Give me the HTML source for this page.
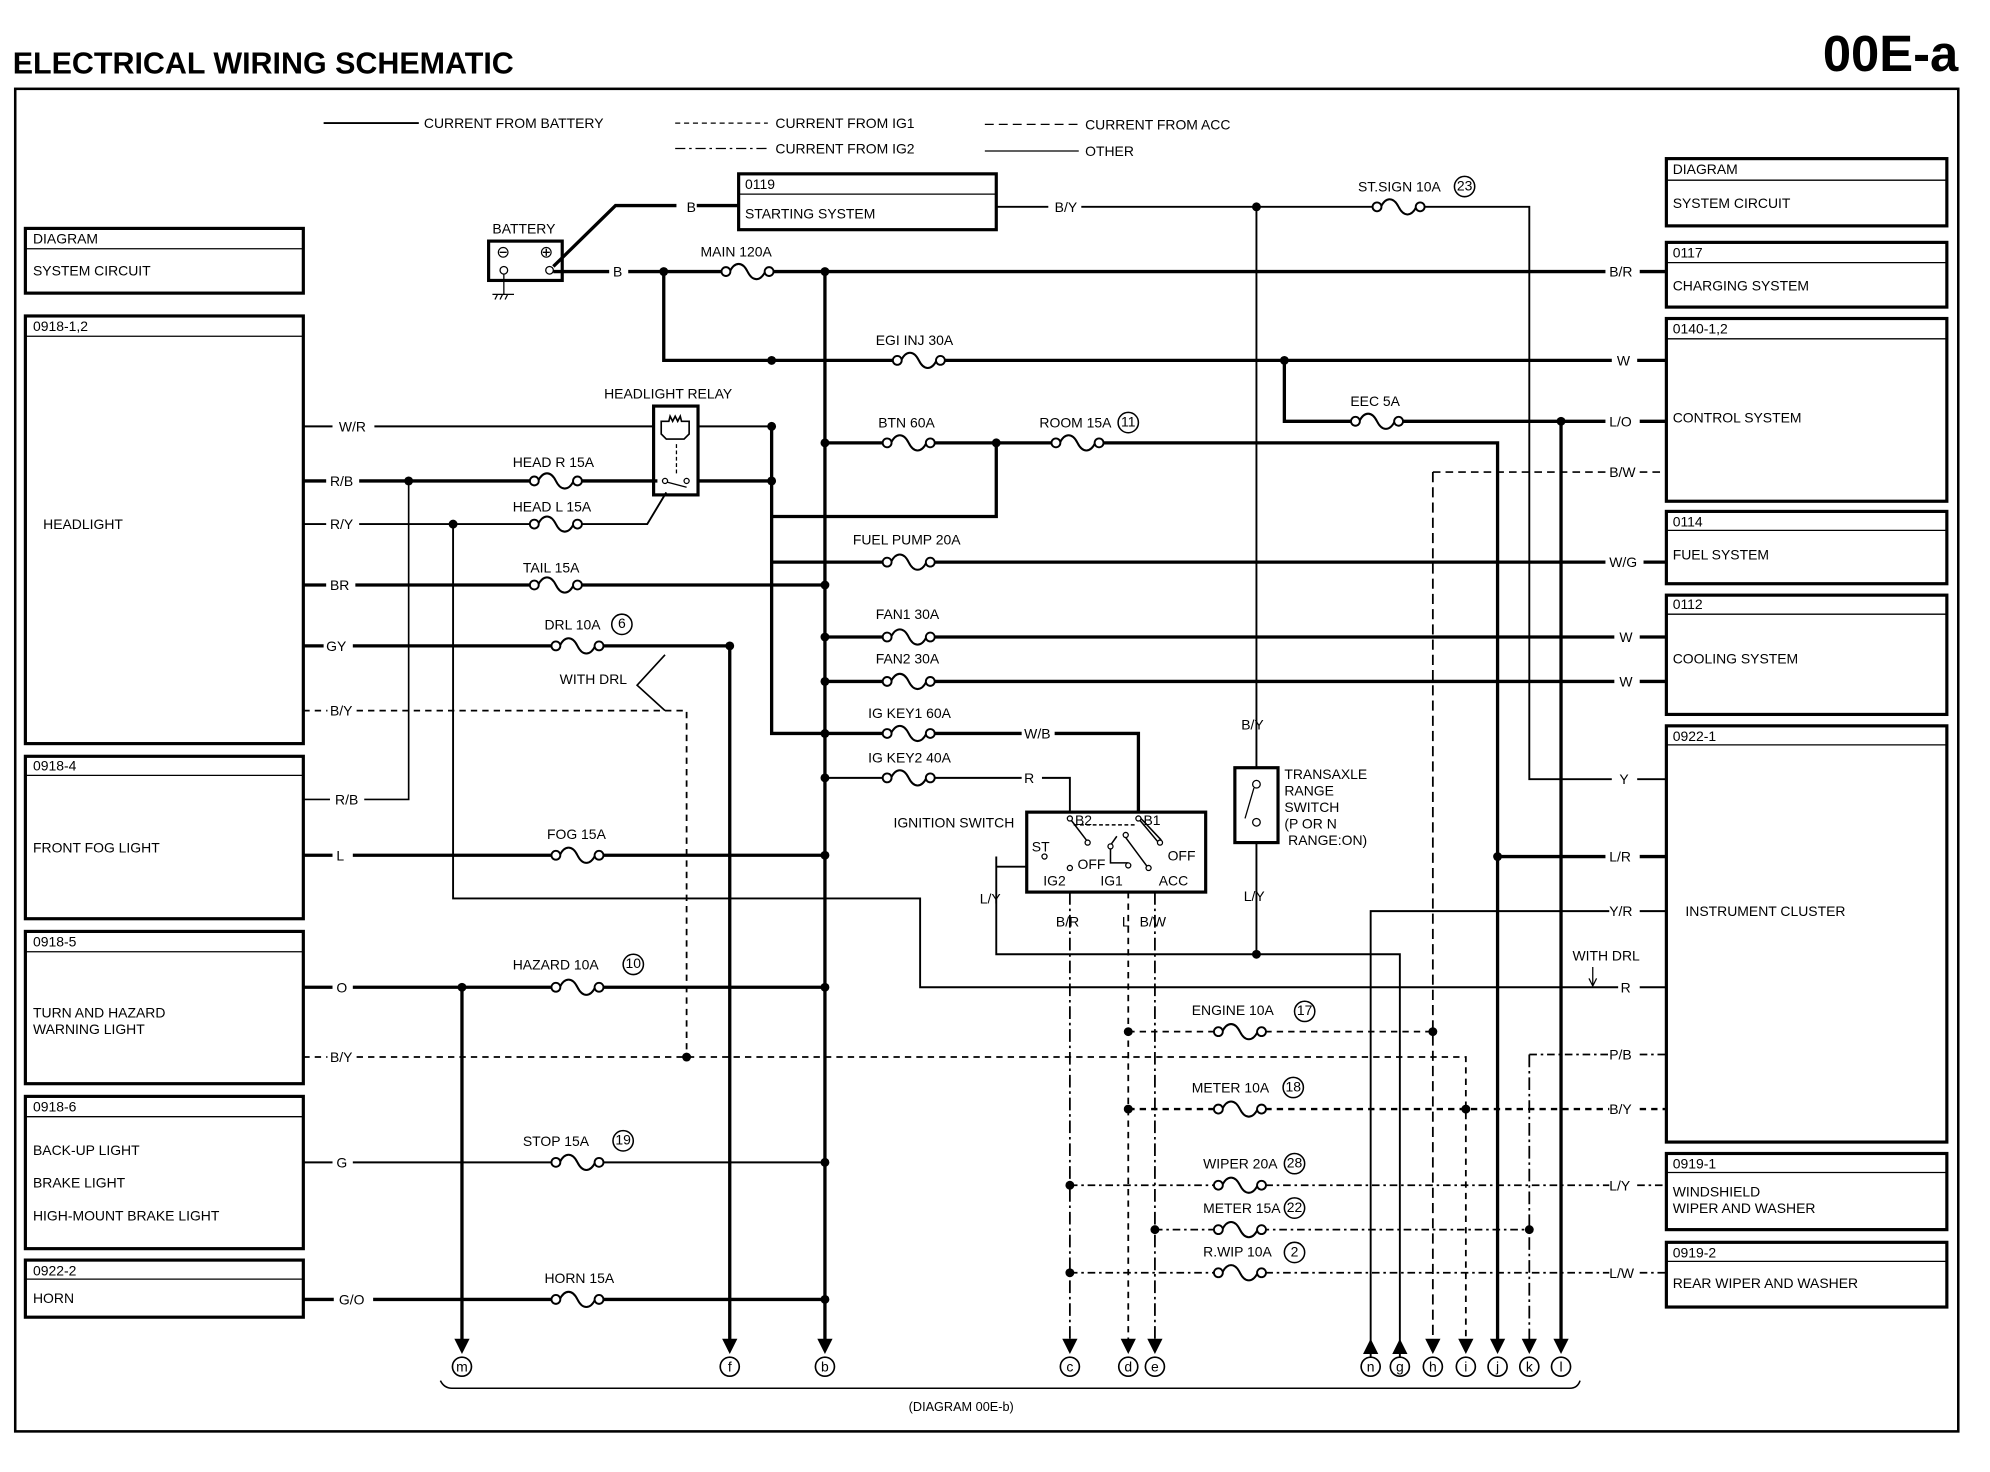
<!DOCTYPE html>
<html><head><meta charset="utf-8"><style>
html,body{margin:0;padding:0;background:#fff;}
svg{display:block;}
text{font-family:"Liberation Sans",sans-serif;font-size:11px;fill:#000;}
.b{font-weight:bold;}
</style></head><body>
<svg width="1990" height="1472" viewBox="0 0 1568 1160" preserveAspectRatio="none" xmlns="http://www.w3.org/2000/svg">
<defs>
<g id="f"><rect x="-19" y="-3" width="38" height="6" fill="#fff"/><path d="M-14 0 C-10 -8 -4 -8 0 0 C4 8 10 8 14 0" fill="none" stroke="#000" stroke-width="1.6"/><circle cx="-17" r="3.5" fill="#fff" stroke="#000" stroke-width="1.5"/><circle cx="17" r="3.5" fill="#fff" stroke="#000" stroke-width="1.5"/></g>
</defs>
<rect width="1568" height="1160" fill="#fff"/>
<text x="10" y="58" class="b" style="font-size:24px">ELECTRICAL WIRING SCHEMATIC</text>
<text x="1543" y="56" class="b" style="font-size:40px" text-anchor="end">00E-a</text>
<rect x="12" y="70" width="1531" height="1058" fill="none" stroke="#000" stroke-width="2"/>

<!-- legend -->
<g stroke="#000" stroke-width="1.5">
<line x1="255" y1="97" x2="330" y2="97"/>
<line x1="532" y1="97" x2="605" y2="97" stroke-dasharray="4 3" stroke-width="1"/>
<line x1="532" y1="117" x2="605" y2="117" stroke-dasharray="8 3 2 3" stroke-width="1"/>
<line x1="776" y1="98" x2="850" y2="98" stroke-dasharray="7 4" stroke-width="1"/>
<line x1="776" y1="119" x2="850" y2="119" stroke-width="1"/>
</g>
<text x="334" y="101">CURRENT FROM BATTERY</text>
<text x="611" y="101">CURRENT FROM IG1</text>
<text x="611" y="121">CURRENT FROM IG2</text>
<text x="855" y="102">CURRENT FROM ACC</text>
<text x="855" y="123">OTHER</text>

<g fill="none" stroke="#000" stroke-width="2.5">
<rect x="20" y="180" width="219" height="51"/><rect x="20" y="249" width="219" height="337"/>
<rect x="20" y="596" width="219" height="128"/><rect x="20" y="734" width="219" height="120"/>
<rect x="20" y="864" width="219" height="120"/><rect x="20" y="993" width="219" height="45"/>
<rect x="1313" y="125" width="221" height="53"/><rect x="1313" y="191" width="221" height="51"/>
<rect x="1313" y="251" width="221" height="144"/><rect x="1313" y="403" width="221" height="57"/>
<rect x="1313" y="469" width="221" height="94"/><rect x="1313" y="572" width="221" height="328"/>
<rect x="1313" y="909" width="221" height="60"/><rect x="1313" y="979" width="221" height="51"/>
<rect x="582" y="137" width="203" height="44"/>
</g>
<g stroke="#000" stroke-width="1">
<line x1="20" y1="196" x2="239" y2="196"/><line x1="20" y1="265" x2="239" y2="265"/>
<line x1="20" y1="611" x2="239" y2="611"/><line x1="20" y1="750" x2="239" y2="750"/>
<line x1="20" y1="880" x2="239" y2="880"/><line x1="20" y1="1008" x2="239" y2="1008"/>
<line x1="1313" y1="142" x2="1534" y2="142"/><line x1="1313" y1="207" x2="1534" y2="207"/>
<line x1="1313" y1="267" x2="1534" y2="267"/><line x1="1313" y1="418" x2="1534" y2="418"/>
<line x1="1313" y1="484" x2="1534" y2="484"/><line x1="1313" y1="587" x2="1534" y2="587"/>
<line x1="1313" y1="924" x2="1534" y2="924"/><line x1="1313" y1="994" x2="1534" y2="994"/>
<line x1="582" y1="153" x2="785" y2="153"/>
</g>
<text x="26" y="192">DIAGRAM</text><text x="26" y="217">SYSTEM CIRCUIT</text>
<text x="26" y="261">0918-1,2</text><text x="34" y="417">HEADLIGHT</text>
<text x="26" y="607">0918-4</text><text x="26" y="672">FRONT FOG LIGHT</text>
<text x="26" y="746">0918-5</text><text x="26" y="802">TURN AND HAZARD</text><text x="26" y="815">WARNING LIGHT</text>
<text x="26" y="876">0918-6</text><text x="26" y="910">BACK-UP LIGHT</text><text x="26" y="936">BRAKE LIGHT</text><text x="26" y="962">HIGH-MOUNT BRAKE LIGHT</text>
<text x="26" y="1005">0922-2</text><text x="26" y="1027">HORN</text>
<text x="1318" y="137">DIAGRAM</text><text x="1318" y="164">SYSTEM CIRCUIT</text>
<text x="1318" y="203">0117</text><text x="1318" y="229">CHARGING SYSTEM</text>
<text x="1318" y="263">0140-1,2</text><text x="1318" y="333">CONTROL SYSTEM</text>
<text x="1318" y="415">0114</text><text x="1318" y="441">FUEL SYSTEM</text>
<text x="1318" y="480">0112</text><text x="1318" y="523">COOLING SYSTEM</text>
<text x="1318" y="584">0922-1</text><text x="1328" y="722">INSTRUMENT CLUSTER</text>
<text x="1318" y="921">0919-1</text><text x="1318" y="943">WINDSHIELD</text><text x="1318" y="956">WIPER AND WASHER</text>
<text x="1318" y="991">0919-2</text><text x="1318" y="1015">REAR WIPER AND WASHER</text>
<text x="587" y="149">0119</text><text x="587" y="172">STARTING SYSTEM</text>

<rect x="385" y="190" width="58" height="31" fill="none" stroke="#000" stroke-width="2.5"/>
<text x="388" y="184">BATTERY</text>
<text x="391" y="203" style="font-size:13px">⊖</text><text x="425" y="203" style="font-size:13px">⊕</text>
<circle cx="397" cy="213" r="3" fill="#fff" stroke="#000"/><circle cx="433" cy="213" r="3" fill="#fff" stroke="#000"/>
<path d="M397 216 V232 M388 232 H405 M390 236 l2 -4 M394 236 l2 -4 M398 236 l2 -4" stroke="#000" fill="none"/>

<g stroke="#000" stroke-width="2.6" fill="none">
<path d="M436 210 L485 162 H533 M549 162 H582"/>
<path d="M436 214 H480 M495 214 H1265 M1292 214 H1313"/>
<path d="M785 163 H826 M852 163 H1205 V614 H1270 M1290 614 H1313" stroke-width="1.5"/>
<path d="M990 163 V605" stroke-width="1.5"/>
<path d="M523 214 V284 H1270 M1290 284 H1313"/>
<path d="M1012 284 V332 H1265 M1292 332 H1313"/>
<path d="M650 214 V1060"/>
<path d="M608 336 V578 H805 M831 578 H897 V640"/>
<path d="M650 349 H1180 V1060 M1180 675 H1265 M1292 675 H1313"/>
<path d="M785 349 V407 H608"/>
<path d="M650 613 H805 M821 613 H843 V640" stroke-width="1.5"/>
<path d="M608 443 H1265 M1295 443 H1313"/>
<path d="M650 502 H1272 M1292 502 H1313"/>
<path d="M650 537 H1272 M1292 537 H1313"/>
<path d="M1230 332 V1060"/>
<path d="M239 336 H262 M295 336 H515 M550 336 H608" stroke-width="1.5"/>
<path d="M239 379 H257 M283 379 H518 M550 379 H608"/>
<path d="M239 413 H257 M283 413 H510 L525 388" stroke-width="1.5"/>
<path d="M239 461 H257 M280 461 H650"/>
<path d="M239 509 H255 M278 509 H575 V1060"/>
<path d="M239 630 H260 M287 630 H322 V379" stroke-width="1.3"/>
<path d="M357 413 V708 H725 V778 H1275 M1292 778 H1313" stroke-width="1.5"/>
<path d="M239 674 H262 M278 674 H650"/>
<path d="M239 778 H262 M278 778 H650 M364 778 V1060"/>
<path d="M239 916 H262 M278 916 H650" stroke-width="1.5"/>
<path d="M239 1024 H263 M294 1024 H650"/>
<path d="M785 683 H809 M785 675 V752 H1103 V1070" stroke-width="1.5"/>
<path d="M990 664 V752" stroke-width="1.5"/>
<path d="M1080 1070 V718 H1268 M1292 718 H1313" stroke-width="1.5"/>
<path d="M1205 831 H1270 M1292 831 H1313" stroke-width="1.3" stroke-dasharray="6 3 2 3"/>
<path d="M1129 372 H1267 M1292 372 H1313" stroke-width="1.2" stroke-dasharray="6 4"/>
</g>
<g stroke="#000" stroke-width="1.4" fill="none">
<path d="M239 560 H258 M281 560 H541 V833" stroke-dasharray="5 4"/>
<path d="M239 833 H258 M281 833 H1155 V1060" stroke-dasharray="5 4"/>
<path d="M843 703 V1060" stroke-dasharray="10 3 2 3"/>
<path d="M843 934 H1268 M1290 934 H1313" stroke-dasharray="6 3 2 3"/>
<path d="M843 1003 H1268 M1292 1003 H1313" stroke-dasharray="6 3 2 3"/>
<path d="M889 703 V1060" stroke-dasharray="5 4"/>
<path d="M889 813 H1129" stroke-dasharray="5 4"/>
<path d="M1129 372 V1060" stroke-dasharray="8 4"/>
<path d="M889 874 H1268 M1292 874 H1313" stroke-dasharray="5 4" stroke-width="1.8"/>
<path d="M910 703 V1060" stroke-dasharray="10 3 2 3"/>
<path d="M910 969 H1205" stroke-dasharray="6 3 2 3"/>
<path d="M1205 831 V1060" stroke-dasharray="10 3 2 3"/>
</g>
<g fill="#000">
<path d="M358 1055 h12 l-6 12z"/><path d="M569 1055 h12 l-6 12z"/><path d="M644 1055 h12 l-6 12z"/>
<path d="M837 1055 h12 l-6 12z"/><path d="M883 1055 h12 l-6 12z"/><path d="M904 1055 h12 l-6 12z"/>
<path d="M1123 1055 h12 l-6 12z"/><path d="M1149 1055 h12 l-6 12z"/><path d="M1174 1055 h12 l-6 12z"/>
<path d="M1199 1055 h12 l-6 12z"/><path d="M1224 1055 h12 l-6 12z"/>
<path d="M1074 1067 h12 l-6 -12z"/><path d="M1097 1067 h12 l-6 -12z"/>
</g>
<g fill="#fff" stroke="#000" stroke-width="1.3">
<circle cx="364" cy="1077" r="7.5"/><circle cx="575" cy="1077" r="7.5"/><circle cx="650" cy="1077" r="7.5"/>
<circle cx="843" cy="1077" r="7.5"/><circle cx="889" cy="1077" r="7.5"/><circle cx="910" cy="1077" r="7.5"/>
<circle cx="1080" cy="1077" r="7.5"/><circle cx="1103" cy="1077" r="7.5"/><circle cx="1129" cy="1077" r="7.5"/>
<circle cx="1155" cy="1077" r="7.5"/><circle cx="1180" cy="1077" r="7.5"/><circle cx="1205" cy="1077" r="7.5"/><circle cx="1230" cy="1077" r="7.5"/>
</g>
<g text-anchor="middle" style="font-size:10px">
<text x="364" y="1081">m</text><text x="575" y="1081">f</text><text x="650" y="1081">b</text>
<text x="843" y="1081">c</text><text x="889" y="1081">d</text><text x="910" y="1081">e</text>
<text x="1080" y="1081">n</text><text x="1103" y="1081">g</text><text x="1129" y="1081">h</text>
<text x="1155" y="1081">i</text><text x="1180" y="1081">j</text><text x="1205" y="1081">k</text><text x="1230" y="1081">l</text>
</g>
<path d="M347 1088 Q350 1094 356 1094 H1237 Q1243 1094 1245 1088" fill="none" stroke="#000" stroke-width="1.2"/>
<text x="716" y="1112" style="font-size:10px">(DIAGRAM 00E-b)</text>

<g fill="#000">
<circle cx="523" cy="214" r="3.5"/><circle cx="650" cy="214" r="3.5"/><circle cx="990" cy="163" r="3.5"/>
<circle cx="608" cy="284" r="3.5"/><circle cx="1012" cy="284" r="3.5"/><circle cx="608" cy="336" r="3.5"/>
<circle cx="608" cy="379" r="3.5"/><circle cx="650" cy="349" r="3.5"/><circle cx="785" cy="349" r="3.5"/>
<circle cx="322" cy="379" r="3.5"/><circle cx="357" cy="413" r="3.5"/><circle cx="650" cy="461" r="3.5"/>
<circle cx="575" cy="509" r="3.5"/><circle cx="650" cy="502" r="3.5"/><circle cx="650" cy="537" r="3.5"/>
<circle cx="650" cy="578" r="3.5"/><circle cx="650" cy="613" r="3.5"/><circle cx="650" cy="674" r="3.5"/>
<circle cx="364" cy="778" r="3.5"/><circle cx="650" cy="778" r="3.5"/><circle cx="541" cy="833" r="3.5"/>
<circle cx="650" cy="916" r="3.5"/><circle cx="650" cy="1024" r="3.5"/><circle cx="990" cy="752" r="3.5"/>
<circle cx="1180" cy="675" r="3.5"/><circle cx="889" cy="813" r="3.5"/><circle cx="1129" cy="813" r="3.5"/>
<circle cx="889" cy="874" r="3.5"/><circle cx="1155" cy="874" r="3.5"/><circle cx="843" cy="934" r="3.5"/>
<circle cx="910" cy="969" r="3.5"/><circle cx="1205" cy="969" r="3.5"/><circle cx="843" cy="1003" r="3.5"/>
<circle cx="1230" cy="332" r="3.5"/>
</g>

<use href="#f" x="589" y="214"/><use href="#f" x="724" y="284"/><use href="#f" x="1085" y="332"/>
<use href="#f" x="716" y="349"/><use href="#f" x="849" y="349"/><use href="#f" x="438" y="379"/>
<use href="#f" x="438" y="413"/><use href="#f" x="438" y="461"/><use href="#f" x="716" y="443"/>
<use href="#f" x="455" y="509"/><use href="#f" x="716" y="502"/><use href="#f" x="716" y="537"/>
<use href="#f" x="716" y="578"/><use href="#f" x="716" y="613"/><use href="#f" x="455" y="674"/>
<use href="#f" x="455" y="778"/><use href="#f" x="977" y="813"/><use href="#f" x="977" y="874"/>
<use href="#f" x="455" y="916"/><use href="#f" x="977" y="934"/><use href="#f" x="977" y="969"/>
<use href="#f" x="977" y="1003"/><use href="#f" x="455" y="1024"/><use href="#f" x="1102" y="163"/>

<text x="552" y="202">MAIN 120A</text><text x="690" y="272">EGI INJ 30A</text><text x="1064" y="320">EEC 5A</text>
<text x="692" y="337">BTN 60A</text><text x="819" y="337">ROOM 15A</text><text x="404" y="368">HEAD R 15A</text>
<text x="404" y="403">HEAD L 15A</text><text x="412" y="451">TAIL 15A</text><text x="672" y="429">FUEL PUMP 20A</text>
<text x="429" y="496">DRL 10A</text><text x="690" y="488">FAN1 30A</text><text x="690" y="523">FAN2 30A</text>
<text x="684" y="566">IG KEY1 60A</text><text x="684" y="601">IG KEY2 40A</text><text x="431" y="661">FOG 15A</text>
<text x="404" y="764">HAZARD 10A</text><text x="939" y="800">ENGINE 10A</text><text x="939" y="861">METER 10A</text>
<text x="412" y="903">STOP 15A</text><text x="948" y="921">WIPER 20A</text><text x="948" y="956">METER 15A</text>
<text x="948" y="990">R.WIP 10A</text><text x="429" y="1011">HORN 15A</text><text x="1070" y="151">ST.SIGN 10A</text>
<g fill="#fff" stroke="#000" stroke-width="1.2">
<circle cx="889" cy="333" r="8"/><circle cx="490" cy="492" r="8"/><circle cx="499" cy="760" r="8"/>
<circle cx="1028" cy="797" r="8"/><circle cx="1019" cy="857" r="8"/><circle cx="491" cy="899" r="8"/>
<circle cx="1020" cy="917" r="8"/><circle cx="1020" cy="952" r="8"/><circle cx="1020" cy="987" r="8"/><circle cx="1154" cy="147" r="8"/>
</g>
<g text-anchor="middle" style="font-size:9px">
<text x="889" y="336">11</text><text x="490" y="495">6</text><text x="499" y="763">10</text>
<text x="1028" y="800">17</text><text x="1019" y="860">18</text><text x="491" y="902">19</text>
<text x="1020" y="920">28</text><text x="1020" y="955">22</text><text x="1020" y="990">2</text><text x="1154" y="150">23</text>
</g>

<text x="541" y="167">B</text><text x="483" y="218">B</text><text x="831" y="167">B/Y</text>
<text x="267" y="340">W/R</text><text x="260" y="383">R/B</text><text x="260" y="417">R/Y</text>
<text x="260" y="465">BR</text><text x="257" y="513">GY</text><text x="260" y="564">B/Y</text>
<text x="264" y="634">R/B</text><text x="265" y="678">L</text><text x="265" y="782">O</text>
<text x="260" y="837">B/Y</text><text x="265" y="920">G</text><text x="267" y="1028">G/O</text>
<text x="1268" y="218">B/R</text><text x="1274" y="288">W</text><text x="1268" y="336">L/O</text>
<text x="1268" y="376">B/W</text><text x="1268" y="447">W/G</text><text x="1276" y="506">W</text>
<text x="1276" y="541">W</text><text x="1276" y="618">Y</text><text x="1268" y="679">L/R</text>
<text x="1268" y="722">Y/R</text><text x="1277" y="782">R</text><text x="1268" y="835">P/B</text>
<text x="1268" y="878">B/Y</text><text x="1268" y="938">L/Y</text><text x="1268" y="1007">L/W</text>
<text x="807" y="582">W/B</text><text x="807" y="617">R</text>
<text x="978" y="575">B/Y</text><text x="980" y="710">L/Y</text><text x="772" y="712">L/Y</text>
<text x="832" y="730">B/R</text><text x="884" y="730">L</text><text x="898" y="730">B/W</text>
<text x="1239" y="757">WITH DRL</text>
<path d="M1255 762 V776 M1252 771 L1255 777 L1258 771" stroke="#000" fill="none"/>
<text x="441" y="539">WITH DRL</text>
<path d="M524 516 L502 540 L524 560" stroke="#000" fill="none" stroke-width="1.3"/>

<text x="476" y="314">HEADLIGHT RELAY</text>
<rect x="515" y="320" width="35" height="70" fill="none" stroke="#000" stroke-width="2.5"/>
<path d="M521 332 h6 l1 -4 l2 4 l2 -4 l2 4 l2 -4 l1 4 h6 v10 l-4 4 h-14 l-4 -4z" fill="none" stroke="#000" stroke-width="1.3"/>
<path d="M533 350 v25" stroke="#000" stroke-dasharray="3 2"/>
<circle cx="524" cy="379" r="2" fill="none" stroke="#000"/><circle cx="541" cy="379" r="2" fill="none" stroke="#000"/>
<path d="M526 380 L541 384" stroke="#000"/>

<rect x="973" y="605" width="34" height="59" fill="none" stroke="#000" stroke-width="2.5"/>
<circle cx="990" cy="618" r="3" fill="#fff" stroke="#000"/><circle cx="990" cy="648" r="3" fill="#fff" stroke="#000"/>
<path d="M988 621 L981 645" stroke="#000"/>
<text x="1012" y="614">TRANSAXLE</text><text x="1012" y="627">RANGE</text><text x="1012" y="640">SWITCH</text>
<text x="1012" y="653">(P OR N</text><text x="1015" y="666">RANGE:ON)</text>

<text x="704" y="652">IGNITION SWITCH</text>
<rect x="809" y="640" width="141" height="63" fill="none" stroke="#000" stroke-width="2.5"/>
<g style="font-size:8px"><text x="847" y="650">B2</text><text x="901" y="650">B1</text><text x="813" y="671">ST</text>
<text x="849" y="685">OFF</text><text x="920" y="678">OFF</text><text x="822" y="698">IG2</text><text x="867" y="698">IG1</text><text x="913" y="698">ACC</text></g>
<g stroke="#000" fill="none" stroke-width="1.2">
<path d="M843 645 L856 662 M897 645 L912 663 M899 645 L915 662"/>
<path d="M846 650 H895" stroke-dasharray="3 2"/>
<path d="M875 666 L880 659 M887 660 L904 683"/>
<path d="M875 668 V680 H889"/>
</g>
<g fill="#fff" stroke="#000">
<circle cx="843" cy="645" r="2"/><circle cx="897" cy="645" r="2"/><circle cx="823" cy="675" r="2"/>
<circle cx="857" cy="664" r="2"/><circle cx="914" cy="664" r="2"/><circle cx="843" cy="684" r="2"/>
<circle cx="875" cy="667" r="2"/><circle cx="889" cy="682" r="2"/><circle cx="905" cy="684" r="2"/><circle cx="887" cy="658" r="2"/>
</g>
</svg>
</body></html>
